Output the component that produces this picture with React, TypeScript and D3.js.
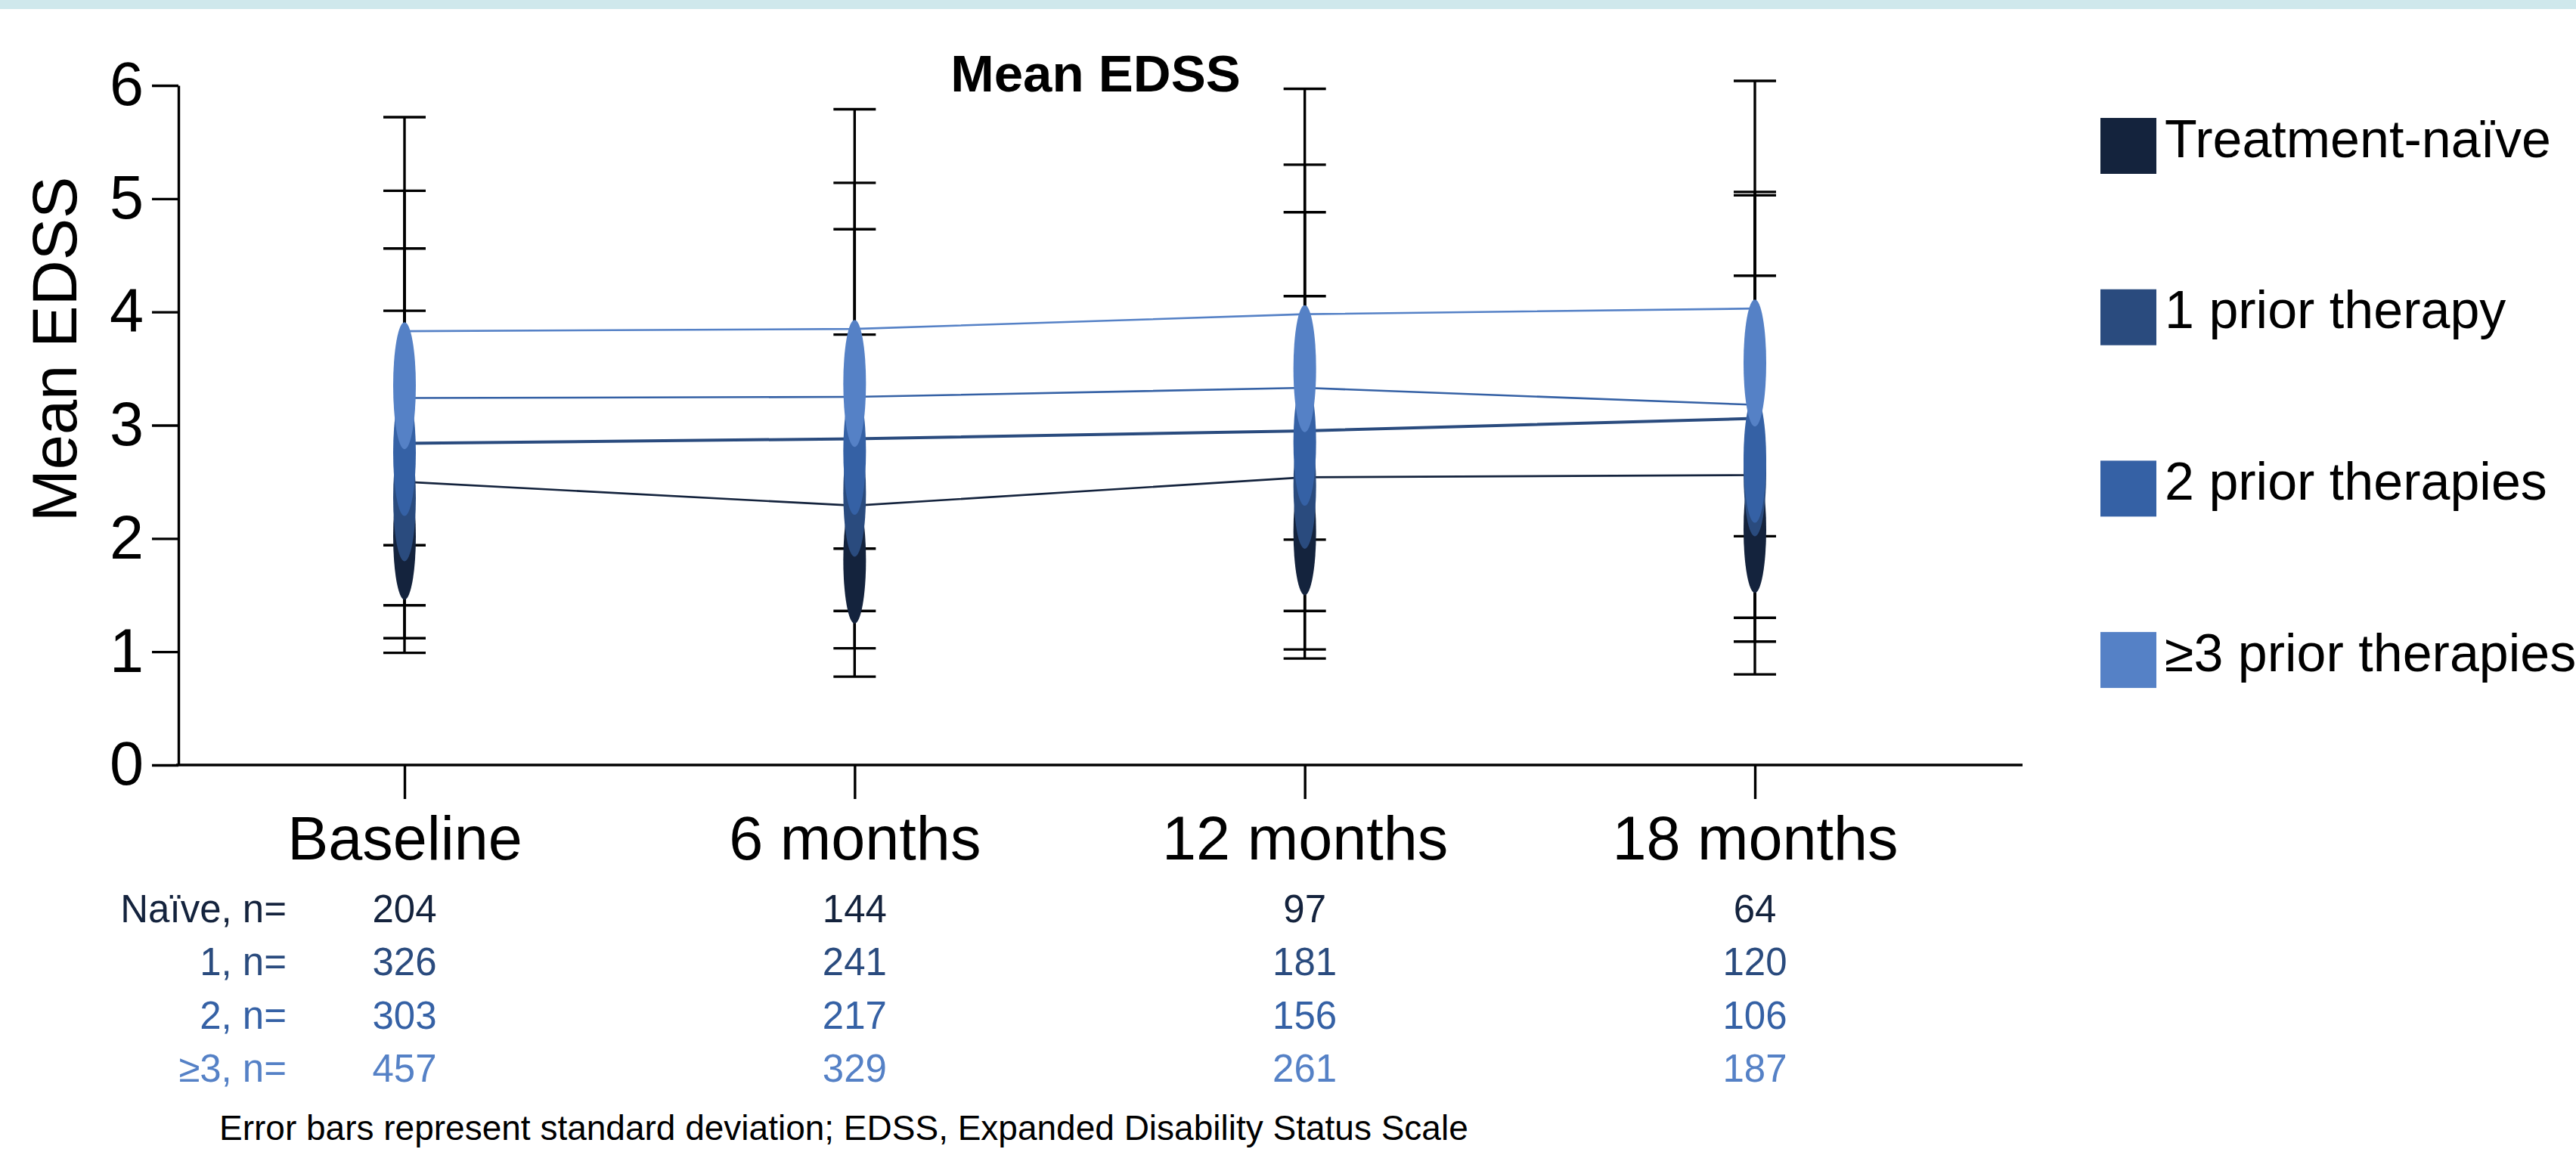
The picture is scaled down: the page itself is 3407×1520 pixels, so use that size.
import React, { useEffect, useRef } from "react";
import * as d3 from "d3";

const timepoints = ["Baseline", "6 months", "12 months", "18 months"];
const seriesNames = ["Treatment-naïve", "1 prior therapy", "2 prior therapies", "≥3 prior therapies"];
const rowLabels = ["Naïve, n=", "1, n=", "2, n=", "≥3, n="];
const colors = ["#14233D", "#2A4B7E", "#3561A5", "#5581C6"];

const meanNaive = [2.5, 2.29, 2.54, 2.56];
const meanOne = [2.84, 2.88, 2.95, 3.06];
const meanTwo = [3.24, 3.25, 3.33, 3.18];
const meanThree = [3.83, 3.85, 3.98, 4.03];

const sdNaive = [1.51, 1.51, 1.6, 1.76];
const sdOne = [1.72, 1.85, 1.93, 1.97];
const sdTwo = [1.83, 1.89, 1.97, 1.88];
const sdThree = [1.89, 1.94, 1.99, 2.01];

const nNaive = [204, 144, 97, 64];
const nOne = [326, 241, 181, 120];
const nTwo = [303, 217, 156, 106];
const nThree = [457, 329, 261, 187];

const yTicks = [0, 1, 2, 3, 4, 5, 6];

const title = "Mean EDSS";
const yTitle = "Mean EDSS";
const footnote = "Error bars represent standard deviation; EDSS, Expanded Disability Status Scale";

const means = [meanNaive, meanOne, meanTwo, meanThree];
const sds = [sdNaive, sdOne, sdTwo, sdThree];
const counts = [nNaive, nOne, nTwo, nThree];

const W = 3407;
const H = 1520;
const FONT = "'Liberation Sans', Arial, Helvetica, sans-serif";
const AXIS_X = 236;
const AXIS_RIGHT = 2675;
const MARKER_RX = 15;
const MARKER_RY = 84;
const MARKER_DROP = 72;
const lineWidths = [2.6, 4, 2.6, 2.6];

export default function App() {
  const yAxisRef = useRef<SVGGElement>(null);
  const xAxisRef = useRef<SVGGElement>(null);

  const x = d3.scalePoint<string>().domain(timepoints).range([535, 2321]);
  const y = d3.scaleLinear().domain([0, 6]).range([1012, 113]);

  useEffect(() => {
    if (yAxisRef.current) {
      const g = d3.select(yAxisRef.current);
      g.call(
        d3
          .axisLeft(y)
          .tickValues(yTicks)
          .tickFormat(d3.format("d"))
          .tickSize(35)
          .tickSizeOuter(0)
          .tickPadding(11)
      );
      g.selectAll("path.domain").attr("stroke", "#000").attr("stroke-width", 3.4);
      g.selectAll(".tick line").attr("stroke", "#000").attr("stroke-width", 3.4);
      g.selectAll(".tick text")
        .attr("fill", "#000")
        .style("font-family", FONT)
        .style("font-size", "81px");
      g.attr("font-family", null).attr("font-size", null);
    }
    if (xAxisRef.current) {
      const g = d3.select(xAxisRef.current);
      g.call(d3.axisBottom(x).tickSize(45).tickSizeOuter(0).tickPadding(22));
      g.selectAll("path.domain").remove();
      g.selectAll(".tick line").attr("stroke", "#000").attr("stroke-width", 3.4);
      g.selectAll(".tick text")
        .attr("fill", "#000")
        .style("font-family", FONT)
        .style("font-size", "81px");
      g.attr("font-family", null).attr("font-size", null);
    }
  }, []);

  const line = d3
    .line<number>()
    .x((_, i) => x(timepoints[i]) as number)
    .y((d) => y(d));

  const capHalf = 28;

  return (
    <svg
      width={W}
      height={H}
      style={{ position: "absolute", left: 0, top: 0, display: "block", background: "#fff" }}
      fontFamily={FONT}
    >
      <rect x={0} y={0} width={W} height={12} fill="#CFE8EC" />

      <text x={1449} y={121} textAnchor="middle" fontSize={69} fontWeight="bold" fill="#000">
        {title}
      </text>

      <text
        transform={`translate(101,462) rotate(-90)`}
        textAnchor="middle"
        fontSize={83}
        fill="#000"
      >
        {yTitle}
      </text>

      {/* error bars */}
      <g stroke="#000" strokeWidth={3.4}>
        {means.map((ms, si) =>
          ms.map((m, ti) => {
            const cx = x(timepoints[ti]) as number;
            const hi = y(m + sds[si][ti]);
            const lo = y(m - sds[si][ti]);
            return (
              <g key={`eb-${si}-${ti}`}>
                <line x1={cx} x2={cx} y1={hi} y2={lo} />
                <line x1={cx - capHalf} x2={cx + capHalf} y1={hi} y2={hi} />
                <line x1={cx - capHalf} x2={cx + capHalf} y1={lo} y2={lo} />
              </g>
            );
          })
        )}
      </g>

      {/* series lines */}
      {means.map((ms, si) => (
        <path
          key={`ln-${si}`}
          d={line(ms) || ""}
          fill="none"
          stroke={colors[si]}
          strokeWidth={lineWidths[si]}
        />
      ))}

      {/* markers */}
      {means.map((ms, si) =>
        ms.map((m, ti) => (
          <ellipse
            key={`mk-${si}-${ti}`}
            cx={x(timepoints[ti]) as number}
            cy={y(m) + MARKER_DROP}
            rx={MARKER_RX}
            ry={MARKER_RY}
            fill={colors[si]}
          />
        ))
      )}

      {/* axes */}
      <line x1={AXIS_X - 3} x2={AXIS_RIGHT} y1={y(0)} y2={y(0)} stroke="#000" strokeWidth={3.4} />
      <g ref={yAxisRef} transform={`translate(${AXIS_X},0)`} />
      <g ref={xAxisRef} transform={`translate(0,${y(0)})`} />

      {/* n table */}
      {counts.map((row, ri) => {
        const by = 1220 + ri * 70.4;
        return (
          <g key={`nrow-${ri}`} fill={colors[ri]} fontSize={51}>
            <text x={379} y={by} textAnchor="end">
              {rowLabels[ri]}
            </text>
            {row.map((n, ti) => (
              <text key={`n-${ri}-${ti}`} x={x(timepoints[ti]) as number} y={by} textAnchor="middle">
                {n}
              </text>
            ))}
          </g>
        );
      })}

      {/* legend */}
      {seriesNames.map((name, i) => {
        const top = 156 + i * 226.7;
        return (
          <g key={`lg-${i}`}>
            <rect x={2778} y={top} width={74} height={74} fill={colors[i]} />
            <text x={2863} y={top + 51.5} fontSize={70} fill="#000">
              {name}
            </text>
          </g>
        );
      })}

      <text x={290} y={1508} fontSize={46} fill="#000">
        {footnote}
      </text>
    </svg>
  );
}
